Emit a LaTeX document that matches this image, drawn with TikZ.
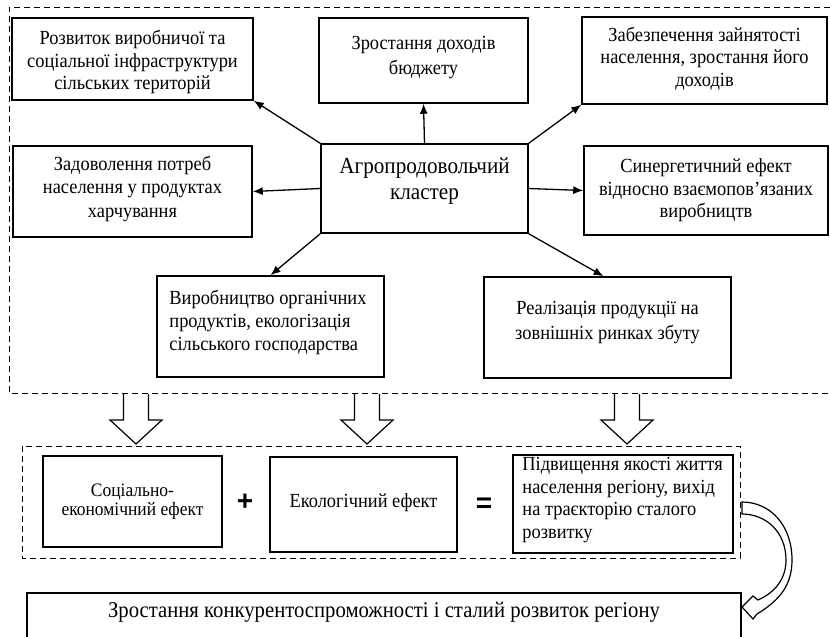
\documentclass[tikz,border=0pt]{standalone}
\usepackage{fontspec}
\setmainfont[FakeStretch=0.92]{Liberation Serif}
\newfontfamily\signfont{Liberation Sans}
\usetikzlibrary{arrows.meta}
\begin{document}
\begin{tikzpicture}[x=1pt,y=-1pt,
  box/.style={draw, line width=1.5pt, inner sep=0pt},
  txt/.style={align=center, inner sep=0pt, font=\fontsize{20}{22.5}\selectfont},
  ltxt/.style={align=left, inner sep=0pt, font=\fontsize{20}{22.5}\selectfont},
  conn/.style={-{Latex[length=10pt,width=8pt]}, line width=1.3pt},
  dbox/.style={dash pattern=on 6pt off 4pt, line width=1pt},
  bigarrow/.style={line width=1.2pt, fill=white, line join=miter},
  sign/.style={inner sep=0pt, font=\signfont\bfseries\fontsize{28}{28}\selectfont}]
\useasboundingbox (0,0) rectangle (830,637);

% outer dashed frame
\draw[dbox] (830,7) -- (9,7) -- (9,393) -- (830,393);

% top boxes
\node[box, minimum width=241, minimum height=82] (b1) at (132.5,59) {};
\node[txt] (t1) at ([yshift=-3pt]b1.center) {Розвиток виробничої та\\соціальної інфраструктури\\сільських територій};

\node[box, minimum width=209, minimum height=85] (b2) at (423.5,60.5) {};
\node[txt, font=\fontsize{20}{25}\selectfont] (t2) at ([yshift=3pt]b2.center) {Зростання доходів\\бюджету};

\node[box, minimum width=245, minimum height=87] (b3) at (704.5,60.5) {};
\node[txt] (t3) at ([yshift=2pt]b3.center) {Забезпечення зайнятості\\населення, зростання його\\доходів};

\node[box, minimum width=239, minimum height=91] (b4) at (132.5,191.5) {};
\node[txt, font=\fontsize{20}{23.5}\selectfont] (t4) at ([yshift=3pt]b4.center) {Задоволення потреб\\населення у продуктах\\харчування};

\node[box, minimum width=207, minimum height=89] (c) at (424.5,188.5) {};
\node[txt, font=\fontsize{23}{26}\selectfont] (ct) at ([yshift=7pt]c.center) {Агропродовольчий\\кластер};

\node[box, minimum width=244, minimum height=89] (b6) at (706,190.5) {};
\node[txt] (t6) at ([yshift=0pt]b6.center) {Синергетичний ефект\\відносно взаємопов’язаних\\виробництв};

\node[box, minimum width=227, minimum height=101] (b7) at (270.5,326.5) {};
\node[ltxt, anchor=west, font=\fontsize{20}{23}\selectfont] (t7) at ([xshift=13pt,yshift=4pt]b7.west) {Виробництво органічних\\продуктів, екологізація\\сільського господарства};

\node[box, minimum width=247, minimum height=101] (b8) at (607.5,327.5) {};
\node[txt, font=\fontsize{20}{25}\selectfont] (t8) at ([yshift=5pt]b8.center) {Реалізація продукції на\\зовнішніх ринках збуту};

% connectors
\draw[conn] (c.north west) -- (b1.south east);
\draw[conn] (c.north) -- (b2.south);
\draw[conn] (c.north east) -- (b3.south west);
\draw[conn] (c.west) -- (b4.east);
\draw[conn] (c.east) -- (b6.west);
\draw[conn] (c.south west) -- (b7.north);
\draw[conn] (c.south east) -- ([xshift=-4pt]b8.north);

% block arrows
\foreach \x in {136,367,627}{
  \draw[bigarrow] (\x-12.5,394) -- (\x-12.5,420) -- (\x-26,420) -- (\x,444) -- (\x+26,420) -- (\x+12.5,420) -- (\x+12.5,394);
}

% lower dashed frame
\draw[dbox] (22,446) rectangle (740,558);

\node[box, minimum width=179, minimum height=91] (ba) at (132.5,501.5) {};
\node[txt, font=\fontsize{19}{19}\selectfont] (ta) at (ba.center) {Соціально-\\економічний ефект};

\node[box, minimum width=187, minimum height=95] (bb) at (363.5,504.5) {};
\node[txt] (tb) at ([yshift=2pt]bb.center) {Екологічний ефект};

\node[box, minimum width=220, minimum height=98] (bc) at (623,504) {};
\node[ltxt, anchor=west] (tc) at ([xshift=10pt,yshift=4pt]bc.west) {Підвищення якості життя\\населення регіону, вихід\\на траєкторію сталого\\розвитку};

\node[sign] (plus) at (245,502) {+};
\node[sign] (eq) at (484,505) {=};

% bottom box
\node[box, minimum width=714, minimum height=60] (bd) at (384,623) {};
\node[txt, font=\fontsize{22.5}{24}\selectfont] (td) at (384,612) {Зростання конкурентоспроможності і сталий розвиток регіону};

% curved block arrow
\draw[bigarrow] (742,514) .. controls (766,514) and (786,532) .. (786,560)
  .. controls (786,578) and (776,592) .. (758,600)
  -- (753,596) -- (742,607) -- (753,619) -- (757,614)
  .. controls (780,600) and (792,585) .. (792,560)
  .. controls (792,525) and (770,502) .. (742,502) -- cycle;
\end{tikzpicture}
\end{document}
